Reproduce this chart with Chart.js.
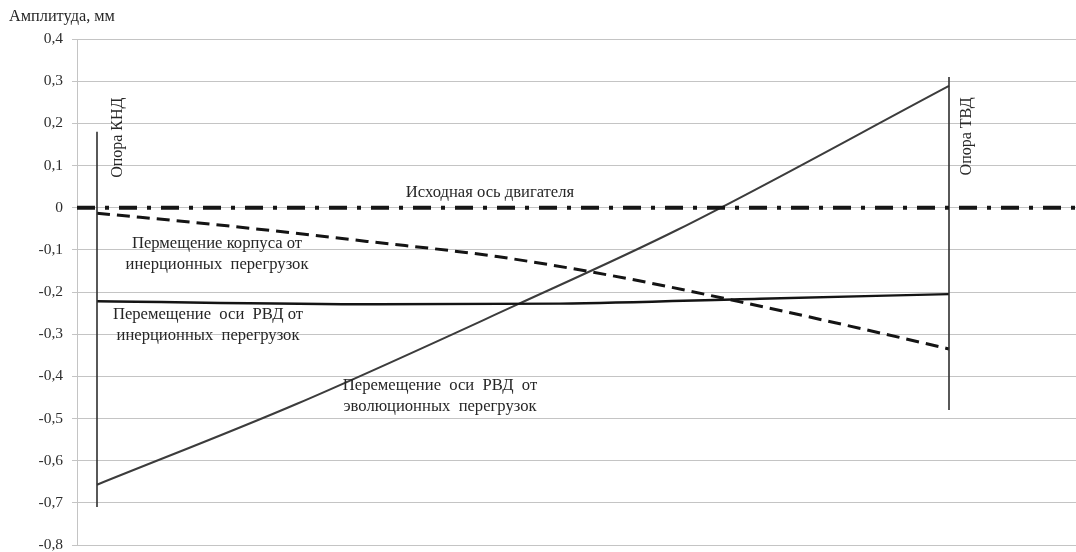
<!DOCTYPE html>
<html lang="ru">
<head>
<meta charset="utf-8">
<title>Амплитуда перемещений</title>
<script src="https://cdn.jsdelivr.net/npm/chart.js@4/dist/chart.umd.min.js"></script>
<style>
  html, body { margin: 0; padding: 0; background: #ffffff; }
  #wrap { width: 1076px; height: 552px; position: relative; }
</style>
</head>
<body>
<div id="wrap"><canvas id="chart" width="1076" height="552"></canvas></div>
<script>
// Y axis ticks and their labels (decimal comma)
const yTickValues = [0.4, 0.3, 0.2, 0.1, 0, -0.1, -0.2, -0.3, -0.4, -0.5, -0.6, -0.7, -0.8];
const yTickLabels = ['0,4', '0,3', '0,2', '0,1', '0', '-0,1', '-0,2', '-0,3', '-0,4', '-0,5', '-0,6', '-0,7', '-0,8'];

// Position along the engine (relative units) of the supports
const supportKND = 20;
const supportTVD = 872;
const kndRange = [0.18, -0.71];
const tvdRange = [0.31, -0.48];

// Initial engine axis
const axisX = [0, 999];
const axisY = [0, 0];

// Casing displacement from inertial overloads
const casingX = [20, 150, 290, 420, 550, 680, 790, 872];
const casingY = [-0.013, -0.043, -0.080, -0.116, -0.168, -0.232, -0.290, -0.335];

// HPR axis displacement from inertial overloads
const rvdInertX = [20, 300, 483, 683, 872];
const rvdInertY = [-0.222, -0.229, -0.2275, -0.216, -0.205];

// HPR axis displacement from evolutionary overloads
const rvdEvoX = [20, 220, 440, 600, 872];
const rvdEvoY = [-0.657, -0.465, -0.230, -0.053, 0.289];

const pts = (xs, ys) => xs.map((x, i) => ({ x: x, y: ys[i] }));

const serif = '"Liberation Serif", "Times New Roman", "DejaVu Serif", serif';

// Captions placed in data coordinates
const captions = [
  { x: 413, y: 0.036, lines: ['Исходная ось двигателя'] },
  { x: 140, y: -0.0855, lines: ['Пермещение корпуса от', 'инерционных  перегрузок'] },
  { x: 131, y: -0.254, lines: ['Перемещение  оси  РВД от', 'инерционных  перегрузок'] },
  { x: 363, y: -0.423, lines: ['Перемещение  оси  РВД  от', 'эволюционных  перегрузок'] }
];
const supportCaptions = [
  { x: 40.5, y: 0.166, text: 'Опора КНД' },
  { x: 889.5, y: 0.169, text: 'Опора ТВД' }
];

const captionPlugin = {
  id: 'captions',
  afterDatasetsDraw(chart) {
    const ctx = chart.ctx;
    const xs = chart.scales.x, ys = chart.scales.y;
    const lineStep = (ys.getPixelForValue(0) - ys.getPixelForValue(0.05));
    ctx.save();
    ctx.fillStyle = '#262626';
    ctx.font = '16.6px ' + serif;
    ctx.textAlign = 'center';
    ctx.textBaseline = 'middle';
    captions.forEach(c => {
      const px = xs.getPixelForValue(c.x);
      const py = ys.getPixelForValue(c.y);
      c.lines.forEach((t, i) => ctx.fillText(t, px, py + i * lineStep));
    });
    ctx.font = '16px ' + serif;
    supportCaptions.forEach(c => {
      ctx.save();
      ctx.translate(xs.getPixelForValue(c.x), ys.getPixelForValue(c.y));
      ctx.rotate(-Math.PI / 2);
      ctx.fillText(c.text, 0, 0);
      ctx.restore();
    });
    // Axis title
    ctx.textAlign = 'left';
    ctx.font = '16.3px ' + serif;
    ctx.fillStyle = '#262626';
    ctx.fillText('Амплитуда, мм', 9, 17);
    ctx.restore();
  }
};

new Chart(document.getElementById('chart'), {
  type: 'line',
  data: {
    datasets: [
      {
        label: 'Исходная ось двигателя',
        data: pts(axisX, axisY),
        borderColor: '#161616',
        borderWidth: 4,
        borderDash: [18, 10, 4, 10],
        borderCapStyle: 'butt'
      },
      {
        label: 'Опора КНД',
        data: pts([supportKND, supportKND], kndRange),
        borderColor: '#303030',
        borderWidth: 1.6
      },
      {
        label: 'Опора ТВД',
        data: pts([supportTVD, supportTVD], tvdRange),
        borderColor: '#303030',
        borderWidth: 1.6
      },
      {
        label: 'Пермещение корпуса от инерционных перегрузок',
        data: pts(casingX, casingY),
        borderColor: '#141414',
        borderWidth: 3,
        borderDash: [13, 7],
        cubicInterpolationMode: 'monotone'
      },
      {
        label: 'Перемещение оси РВД от инерционных перегрузок',
        data: pts(rvdInertX, rvdInertY),
        borderColor: '#141414',
        borderWidth: 2.4,
        cubicInterpolationMode: 'monotone'
      },
      {
        label: 'Перемещение оси РВД от эволюционных перегрузок',
        data: pts(rvdEvoX, rvdEvoY),
        borderColor: '#3c3c3c',
        borderWidth: 2,
        cubicInterpolationMode: 'monotone'
      }
    ]
  },
  options: {
    responsive: false,
    animation: false,
    devicePixelRatio: 1,
    elements: { point: { radius: 0, hoverRadius: 0 } },
    layout: { padding: { left: 0, right: 0, top: 39, bottom: 7 } },
    plugins: {
      legend: { display: false },
      tooltip: { enabled: false },
      title: { display: false }
    },
    scales: {
      x: {
        type: 'linear',
        min: 0,
        max: 999,
        display: false
      },
      y: {
        type: 'linear',
        min: -0.8,
        max: 0.4,
        afterBuildTicks(scale) {
          scale.ticks = yTickValues.map(v => ({ value: v }));
        },
        afterFit(scale) {
          scale.width = 77;
          scale.paddingTop = 0;
          scale.paddingBottom = 0;
        },
        ticks: {
          padding: 9,
          color: '#2e2e2e',
          font: { family: serif, size: 15.5 },
          callback: (value, index) => yTickLabels[index]
        },
        grid: {
          color: '#c4c4c4',
          lineWidth: 1,
          tickLength: 5,
          drawTicks: true
        },
        border: { display: true, color: '#c4c4c4', width: 1 }
      }
    }
  },
  plugins: [captionPlugin]
});
</script>
</body>
</html>
